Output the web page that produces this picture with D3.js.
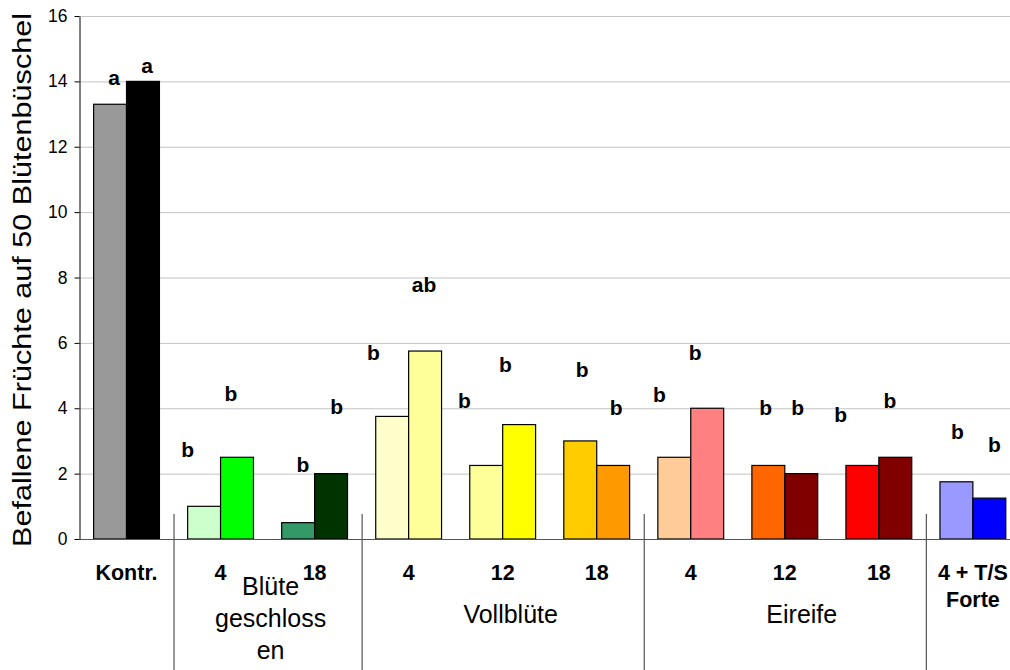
<!DOCTYPE html>
<html>
<head>
<meta charset="utf-8">
<script src="https://cdn.jsdelivr.net/npm/d3@7"></script>
<style>
  html, body { margin: 0; padding: 0; background: #fff; }
  svg { display: block; }
  text { font-family: "Liberation Sans", Arial, Helvetica, sans-serif; }
</style>
</head>
<body>
<svg id="chart" width="1010" height="670"></svg>
<script>
// ---------- data ----------
const categories = [["Kontr."], ["4"], ["18"], ["4"], ["12"], ["18"], ["4"], ["12"], ["18"], ["4 + T/S", "Forte"]];
const seriesA = [13.3, 1.0, 0.5, 3.75, 2.25, 3.0, 2.5, 2.25, 2.25, 1.75];
const seriesB = [14.0, 2.5, 2.0, 5.75, 3.5, 2.25, 4.0, 2.0, 2.5, 1.25];
const colorsA = ["#999999", "#CCFFCC", "#339966", "#FFFFCC", "#FFFF99", "#FFCC00", "#FFCC99", "#FF6600", "#FF0000", "#9999FF"];
const colorsB = ["#000000", "#00FF00", "#003300", "#FFFF99", "#FFFF00", "#FF9900", "#FF8080", "#800000", "#800000", "#0000FF"];
const lettersA = ["a", "b", "b", "b", "b", "b", "b", "b", "b", "b"];
const lettersB = ["a", "b", "b", "ab", "b", "b", "b", "b", "b", "b"];
// letter baseline heights (data units)
const letterYA = [13.89, 2.52, 2.06, 5.48, 4.02, 4.95, 4.20, 3.79, 3.59, 3.07];
const letterYB = [14.26, 4.23, 3.81, 7.55, 5.12, 3.79, 5.48, 3.79, 4.02, 2.66];
// letter horizontal shifts relative to their bar (annotation placement)
const letterShiftA = [4, -16.5, 4.7, -18.8, -21.9, 2, -15, -2.6, -21.6, 1];
const letterShiftB = [4, -6, 5.7, -1, -13.8, 3, -12, -3.5, -5.3, 5];
const groupNames = [["Blüte", "geschloss", "en"], ["Vollblüte"], ["Eireife"]];
const groupFrom = [1, 3, 6];
const groupTo = [2, 5, 8];
const groupShift = [3, 8, 17];
const separatorsAfter = [0, 2, 5, 8];
const yTicks = [0, 2, 4, 6, 8, 10, 12, 14, 16];
const yTitle = "Befallene Früchte auf 50 Blütenbüschel";

// ---------- layout ----------
const svg = d3.select("#chart");
const W = 1010, H = 670;
const x0 = 79.5, step = 94.04;
const idx = d3.range(categories.length);

const x = d3.scaleBand()
  .domain(idx)
  .range([x0, x0 + step * categories.length])
  .paddingInner(0.3)
  .paddingOuter(0.15);
const xs = d3.scaleBand().domain([0, 1]).range([0, x.bandwidth()]);
const y = d3.scaleLinear().domain([0, 16]).range([539, 16]);

// gridlines
svg.append("g")
  .selectAll("line")
  .data(yTicks.filter(d => d > 0))
  .join("line")
  .attr("x1", x0).attr("x2", W)
  .attr("y1", d => y(d) + 0.5).attr("y2", d => y(d) + 0.5)
  .attr("stroke", "#c4c4c4").attr("stroke-width", 1);

// bars
const rows = idx.map(i => ({ i, a: seriesA[i], b: seriesB[i] }));
const g = svg.append("g");
g.selectAll("rect.a").data(rows).join("rect")
  .attr("class", "a")
  .attr("x", d => x(d.i) + xs(0))
  .attr("y", d => y(d.a))
  .attr("width", xs.bandwidth())
  .attr("height", d => y(0) - y(d.a))
  .attr("fill", d => colorsA[d.i])
  .attr("stroke", "#000").attr("stroke-width", 1.2);
g.selectAll("rect.b").data(rows).join("rect")
  .attr("class", "b")
  .attr("x", d => x(d.i) + xs(1))
  .attr("y", d => y(d.b))
  .attr("width", xs.bandwidth())
  .attr("height", d => y(0) - y(d.b))
  .attr("fill", d => colorsB[d.i])
  .attr("stroke", "#000").attr("stroke-width", 1.2);

// baseline
svg.append("line")
  .attr("x1", x0).attr("x2", W)
  .attr("y1", y(0) + 0.5).attr("y2", y(0) + 0.5)
  .attr("stroke", "#555").attr("stroke-width", 1.2);

// y axis
const yAxis = d3.axisLeft(y).tickValues(yTicks).tickSize(5).tickSizeOuter(0).tickPadding(7);
const ya = svg.append("g").attr("transform", `translate(${x0},0)`).call(yAxis);
ya.select(".domain").attr("stroke", "#000");
ya.selectAll(".tick line").attr("stroke", "#000");
ya.selectAll(".tick text")
  .attr("font-family", "'Liberation Sans', Arial, sans-serif")
  .attr("font-size", 17.5)
  .attr("fill", "#000");

// significance letters
const lg = svg.append("g").attr("font-weight", "bold").attr("font-size", 21).attr("text-anchor", "middle").attr("fill", "#000");
lg.selectAll("text.la").data(rows).join("text")
  .attr("x", d => x(d.i) + xs(0) + xs.bandwidth() / 2 + letterShiftA[d.i])
  .attr("y", d => y(letterYA[d.i]))
  .text(d => lettersA[d.i]);
lg.selectAll("text.lb").data(rows).join("text")
  .attr("x", d => x(d.i) + xs(1) + xs.bandwidth() / 2 + letterShiftB[d.i])
  .attr("y", d => y(letterYB[d.i]))
  .text(d => lettersB[d.i]);

// category labels
const cg = svg.append("g").attr("font-weight", "bold").attr("font-size", 21.5).attr("text-anchor", "middle");
idx.forEach(i => {
  categories[i].forEach((line, k) => {
    cg.append("text")
      .attr("x", x(i) + x.bandwidth() / 2)
      .attr("y", 580 + k * 27)
      .text(line);
  });
});

// separators
svg.append("g").selectAll("line").data(separatorsAfter).join("line")
  .attr("x1", d => x0 + step * (d + 1) + 0.5)
  .attr("x2", d => x0 + step * (d + 1) + 0.5)
  .attr("y1", 514).attr("y2", H)
  .attr("stroke", "#555").attr("stroke-width", 1.2);

// group labels
const gg = svg.append("g").attr("font-size", 25).attr("text-anchor", "middle");
groupNames.forEach((lines, gi) => {
  const cx = (x0 + step * groupFrom[gi] + x0 + step * (groupTo[gi] + 1)) / 2 + groupShift[gi];
  const startY = lines.length > 1 ? 595 : 623;
  lines.forEach((line, k) => {
    gg.append("text").attr("x", cx).attr("y", startY + k * 32).text(line);
  });
});

// y title
svg.append("text")
  .attr("transform", "translate(31,280) rotate(-90)")
  .attr("text-anchor", "middle")
  .attr("font-size", 26)
  .attr("textLength", 534)
  .attr("lengthAdjust", "spacingAndGlyphs")
  .text(yTitle);
</script>
</body>
</html>
